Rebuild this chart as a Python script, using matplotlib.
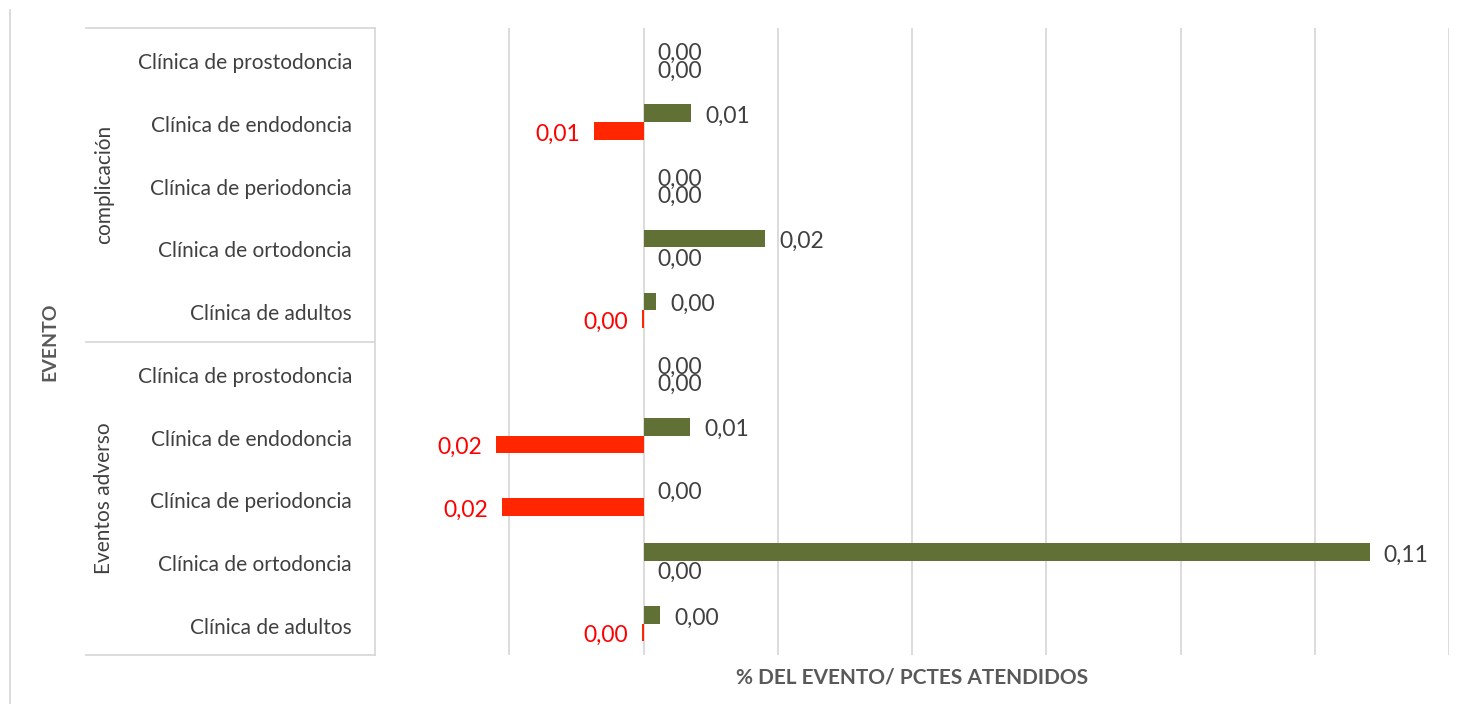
import matplotlib
matplotlib.use("Agg")
import matplotlib.pyplot as plt
from matplotlib.lines import Line2D
import numpy as np

plt.rcParams['font.family'] = ['Lato', 'DejaVu Sans']

clinics = ["Clínica de adultos", "Clínica de ortodoncia", "Clínica de periodoncia",
           "Clínica de endodoncia", "Clínica de prostodoncia"]
groups = ["Eventos adverso", "complicación"]
green_adverso = [0.0025, 0.1082, 0.0, 0.0070, 0.0]
red_adverso = [-0.0002, 0.0, -0.0211, -0.0220, 0.0]
green_comp = [0.0019, 0.0181, 0.0, 0.0071, 0.0]
red_comp = [-0.0002, 0.0, 0.0, -0.0073, 0.0]
x_title = "% DEL EVENTO/ PCTES ATENDIDOS"
y_title = "EVENTO"

green_vals = green_adverso + green_comp
red_vals = red_adverso + red_comp
cat_labels = clinics + clinics

W, H = 1469, 704
fig = plt.figure(figsize=(W / 100, H / 100), dpi=100)

def fx(px):
    return px / W

def fy(py):
    return 1 - py / H

L, R, T, B = 375, 1449, 28, 655
ax = fig.add_axes([fx(L), fy(B), fx(R) - fx(L), fy(T) - fy(B)])
n = len(green_vals)
y = np.arange(n)
h = 0.28
GREEN = '#617135'
RED = '#FF2600'
GRAY = '#404040'

ax.barh(y + h / 2, green_vals, height=h, color=GREEN, zorder=3)
ax.barh(y - h / 2, red_vals, height=h, color=RED, zorder=3)

ax.set_xlim(-0.04, 0.12)
ax.set_ylim(-0.5, n - 0.5)
for gx in np.arange(-0.02, 0.1201, 0.02):
    ax.axvline(gx, color='#d9d9d9', lw=1.3, zorder=1)
for s in ax.spines.values():
    s.set_visible(False)
ax.set_xticks([])
ax.set_yticks([])

fs = 15
vfs = 16.5
def fmt(v):
    return f"{abs(v):.2f}".replace('.', ',')

dy = -2.2
for i in range(n):
    g = green_vals[i]
    ax.annotate(fmt(g), (g, y[i] + h / 2), xytext=(10, dy), textcoords='offset points',
                ha='left', va='center', fontsize=vfs, color=GRAY, zorder=4)
    r = red_vals[i]
    if r < 0:
        ax.annotate(fmt(r), (r, y[i] - h / 2), xytext=(-10, dy), textcoords='offset points',
                    ha='right', va='center', fontsize=vfs, color='#FF0000', zorder=4)
    else:
        ax.annotate(fmt(r), (r, y[i] - h / 2), xytext=(10, dy), textcoords='offset points',
                    ha='left', va='center', fontsize=vfs, color=GRAY, zorder=4)

# category labels
shift = 4 / H
for i in range(n):
    yy = (i + 0.5) / n
    fig.text(fx(352), fy(B) + yy * (fy(T) - fy(B)) - shift, cat_labels[i], ha='right',
             va='center', fontsize=fs, color=GRAY)

# group labels
for gi, gname in enumerate(groups):
    yc = (gi * 5 + 2.5) / n
    fig.text(fx(104), fy(B) + yc * (fy(T) - fy(B)), gname, ha='center', va='center',
             rotation=90, fontsize=fs, color=GRAY)

lc = '#d9d9d9'
for py in (T, (T + B) / 2, B):
    fig.add_artist(Line2D([fx(86), fx(L)], [fy(py), fy(py)], color=lc, lw=1.3))
fig.add_artist(Line2D([fx(L), fx(L)], [fy(T), fy(B)], color=lc, lw=1.3))
fig.add_artist(Line2D([fx(10), fx(10)], [fy(10), fy(704)], color=lc, lw=1.3))

fig.text(fx(912), fy(677), x_title, ha='center', va='center', fontsize=15,
         fontweight='bold', color='#595959')
fig.text(fx(50), fy((T + B) / 2), y_title, ha='center', va='center', fontsize=14,
         fontweight='bold', color='#595959', rotation=90)

fig.savefig('out.png', dpi=100, facecolor='white')
